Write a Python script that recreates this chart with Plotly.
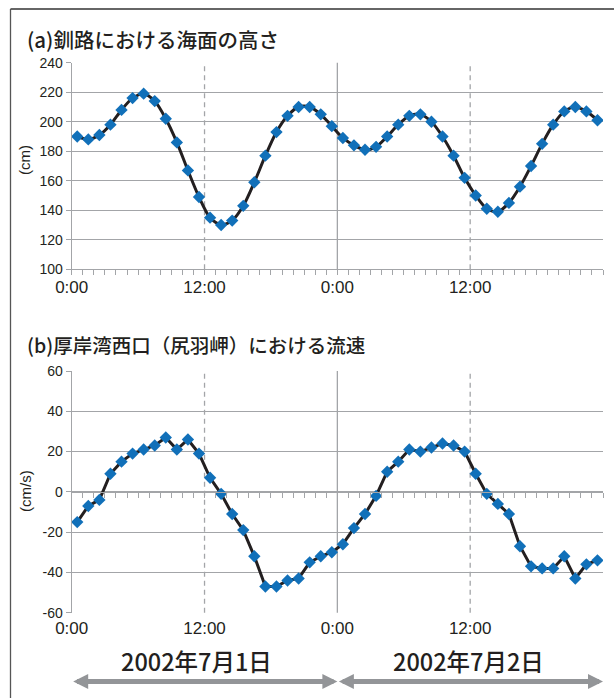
import plotly.graph_objects as go

# Hourly samples (centred on the half hour) from 2002-07-01 0:00 to 2002-07-03 0:00
hours = [h + 0.5 for h in range(48)]

# (a) Sea level at Kushiro (cm)
sea_level = [190, 188, 191, 198, 208, 216, 219, 214, 202, 186, 167, 149,
             135, 130, 133, 143, 159, 177, 193, 204, 210, 210, 205, 197,
             189, 184, 181, 183, 190, 198, 204, 205, 200, 190, 177, 162,
             150, 141, 139, 145, 156, 170, 185, 198, 207, 210, 207, 201]

# (b) Current speed at the western mouth of Akkeshi Bay (Cape Shiripa) (cm/s)
velocity = [-15, -7, -4, 9, 15, 19, 21, 23, 27, 21, 26, 19,
            7, -1, -11, -19, -32, -47, -47, -44, -43, -35, -32, -30,
            -26, -18, -11, -2, 10, 15, 21, 20, 22, 24, 23, 20,
            9, -1, -6, -11, -27, -37, -38, -38, -32, -43, -36, -34]

time_ticks = [0, 12, 24, 36, 48]
time_labels = ["0:00", "12:00", "0:00", "12:00", ""]
sea_ticks = [100, 120, 140, 160, 180, 200, 220, 240]
vel_ticks = [-60, -40, -20, 0, 20, 40, 60]

titles = ["(a)釧路における海面の高さ", "(b)厚岸湾西口（尻羽岬）における流速"]
day_labels = ["2002年7月1日", "2002年7月2日"]

W, H = 614, 698
LINE = "#231f20"
MARK = "#1170b9"
GRID = "#a3a5a8"
ARROW = "#939598"
FONT = "Liberation Sans, Arial, Noto Sans CJK JP, sans-serif"
CJK = "Noto Sans CJK JP, sans-serif"


def px_x(p):
    return p / W


def px_y(p):
    return 1 - p / H


xdom = [px_x(71.7), px_x(603)]
top_dom = [px_y(269.3), px_y(62.7)]
bot_dom = [px_y(612.7), px_y(371)]

fig = go.Figure()

fig.add_trace(go.Scatter(
    x=hours, y=sea_level, xaxis="x", yaxis="y", mode="lines+markers",
    line=dict(color=LINE, width=3, shape="spline", smoothing=0.8),
    marker=dict(symbol="diamond", size=9.5, color=MARK),
    showlegend=False, hoverinfo="skip"))

fig.add_trace(go.Scatter(
    x=hours, y=velocity, xaxis="x2", yaxis="y2", mode="lines+markers",
    line=dict(color=LINE, width=3),
    marker=dict(symbol="diamond", size=9.5, color=MARK),
    showlegend=False, hoverinfo="skip"))

# empty trace so the zero-line axis of panel (b) is drawn
fig.add_trace(go.Scatter(x=[], y=[], xaxis="x3", yaxis="y2",
                         showlegend=False, hoverinfo="skip"))

tick_font = dict(family=FONT, size=14, color=LINE)
xlab_font = dict(family=FONT, size=17, color=LINE)

ymin, ymax = vel_ticks[0], vel_ticks[-1]
zero_pos = bot_dom[0] + (0 - ymin) / (ymax - ymin) * (bot_dom[1] - bot_dom[0])

fig.update_layout(
    width=W, height=H, margin=dict(l=0, r=0, t=0, b=0),
    paper_bgcolor="white", plot_bgcolor="white",
    xaxis=dict(domain=xdom, anchor="y", range=[0, 48],
               tickmode="array", tickvals=time_ticks, ticktext=time_labels,
               showgrid=False, zeroline=False,
               showline=True, linecolor=GRID, linewidth=1.3,
               ticks="outside", ticklen=5, tickwidth=1.3, tickcolor=GRID,
               minor=dict(tickmode="array", tickvals=list(range(49)),
                          ticks="outside", ticklen=5, tickwidth=1.3,
                          tickcolor=GRID, showgrid=False),
               tickfont=xlab_font, ticklabelstandoff=-3, automargin=False),
    yaxis=dict(domain=top_dom, anchor="x", range=[sea_ticks[0], sea_ticks[-1]],
               tickmode="array", tickvals=sea_ticks,
               ticktext=[str(v) for v in sea_ticks],
               showgrid=True, gridcolor=GRID, gridwidth=1.3, zeroline=False,
               showline=True, linecolor=GRID, linewidth=1.3,
               ticks="outside", ticklen=5, tickwidth=1.3, tickcolor=GRID,
               tickfont=tick_font, automargin=False),
    xaxis2=dict(domain=xdom, anchor="y2", range=[0, 48],
                tickmode="array", tickvals=time_ticks, ticktext=time_labels,
                showgrid=False, zeroline=False, showline=False, ticks="",
                tickfont=xlab_font, ticklabelstandoff=3, automargin=False),
    xaxis3=dict(overlaying="x2", anchor="free", position=zero_pos, side="bottom",
                range=[0, 48], tickmode="array", tickvals=list(range(49)),
                showticklabels=False, showgrid=False, zeroline=False,
                showline=True, linecolor=GRID, linewidth=1.3,
                ticks="outside", ticklen=5, tickwidth=1.3, tickcolor=GRID,
                automargin=False),
    yaxis2=dict(domain=bot_dom, anchor="x2", range=[ymin, ymax],
                tickmode="array", tickvals=vel_ticks,
                ticktext=[str(v) for v in vel_ticks],
                showgrid=True, gridcolor=GRID, gridwidth=1.3, zeroline=False,
                showline=True, linecolor=GRID, linewidth=1.3,
                ticks="outside", ticklen=5, tickwidth=1.3, tickcolor=GRID,
                tickfont=tick_font, automargin=False),
)

# vertical separators: dashed at noon, solid at midnight
shapes = []
for xa, ya in (("x", "y"), ("x2", "y2")):
    for t in time_ticks[1:-1]:
        shapes.append(dict(type="line", xref=xa, yref=ya + " domain",
                           x0=t, x1=t, y0=0, y1=1, layer="below",
                           line=dict(color=GRID, width=1.3,
                                     dash="solid" if t % 24 == 0 else "5px,4px")))

# outer frame (top and left edges)
shapes.append(dict(type="line", xref="paper", yref="paper",
                   x0=px_x(10.5), x1=1, y0=px_y(9), y1=px_y(9),
                   line=dict(color="#333333", width=1.5)))
shapes.append(dict(type="line", xref="paper", yref="paper",
                   x0=px_x(10.5), x1=px_x(10.5), y0=0, y1=px_y(9),
                   line=dict(color="#555555", width=1.3)))
fig.update_layout(shapes=shapes)

ann = []
ann.append(dict(text=titles[0], xref="paper", yref="paper", x=px_x(25), y=px_y(39),
                xanchor="left", yanchor="middle", showarrow=False,
                font=dict(family=CJK, size=20.5, color=LINE, weight=500)))
ann.append(dict(text=titles[1], xref="paper", yref="paper", x=px_x(25), y=px_y(344),
                xanchor="left", yanchor="middle", showarrow=False,
                font=dict(family=CJK, size=19.5, color=LINE, weight=500)))
ann.append(dict(text="(cm)", xref="paper", yref="paper", x=px_x(24), y=px_y(160),
                xanchor="center", yanchor="middle", textangle=-90, showarrow=False,
                font=dict(family=FONT, size=15, color=LINE)))
ann.append(dict(text="(cm/s)", xref="paper", yref="paper", x=px_x(25), y=px_y(491),
                xanchor="center", yanchor="middle", textangle=-90, showarrow=False,
                font=dict(family=FONT, size=15, color=LINE)))

# day labels with double-headed arrows spanning each day
for i, lab in enumerate(day_labels):
    start, end = 24 * i, 24 * (i + 1)
    ann.append(dict(text=lab, xref="paper", yref="paper",
                    x=px_x(197 + 271 * i), y=px_y(661),
                    xanchor="center", yanchor="middle", showarrow=False,
                    font=dict(family=CJK, size=23.5, color=LINE, weight=500)))
    ann.append(dict(text="", xref="x2", yref="paper", x=end, y=px_y(681.5),
                    axref="x2", ax=start, ay=0, showarrow=True,
                    arrowside="end+start", arrowhead=2, startarrowhead=2,
                    arrowsize=0.6, startarrowsize=0.6, arrowwidth=5,
                    arrowcolor=ARROW, standoff=0, startstandoff=0))
fig.update_layout(annotations=ann)

fig.write_html("out.html")
